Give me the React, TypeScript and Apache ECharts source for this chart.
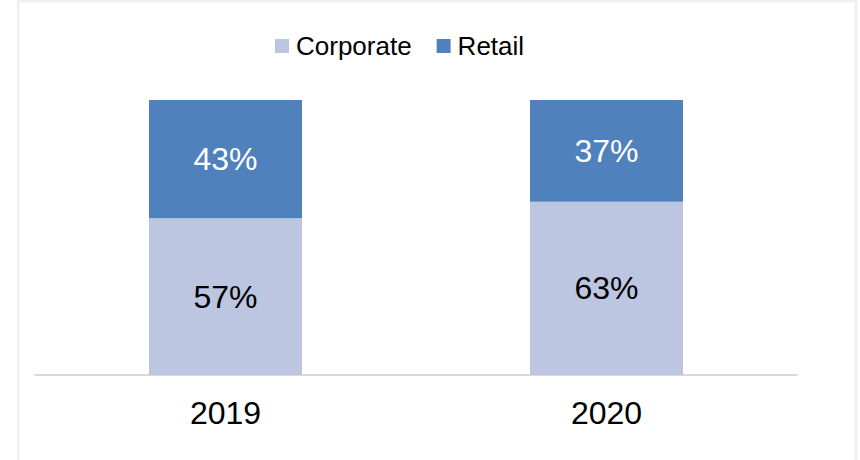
import React, { useEffect, useRef } from "react";
import * as echarts from "echarts";

const categories = ["2019", "2020"];
const corporate = [57, 63];
const retail = [43, 37];
const seriesNames = ["Corporate", "Retail"];

export default function App() {
  const ref = useRef<HTMLDivElement>(null);
  useEffect(() => {
    if (!ref.current) return;
    const chart = echarts.init(ref.current, null, { renderer: "svg" });
    const font = "'Liberation Sans', Arial, sans-serif";
    chart.setOption({
      animation: false,
      backgroundColor: "#ffffff",
      textStyle: { fontFamily: font },
      legend: {
        left: 270,
        top: 28,
        itemWidth: 14,
        itemHeight: 14,
        itemGap: 25,
        icon: "rect",
        textStyle: { fontSize: 26, color: "#000", fontFamily: font, padding: [0, 0, 0, 2] },
        data: seriesNames,
      },
      grid: { left: 35, right: 63, top: 100, bottom: 85 },
      xAxis: {
        type: "category",
        data: categories,
        axisLine: { lineStyle: { color: "#d9d9d9", width: 2 } },
        axisTick: { show: false },
        axisLabel: { fontSize: 32, color: "#000", margin: 22, fontFamily: font },
      },
      yAxis: { type: "value", min: 0, max: 100, show: false, splitLine: { show: false } },
      series: [
        {
          name: seriesNames[0],
          type: "bar",
          stack: "s",
          barWidth: 153,
          data: corporate,
          itemStyle: { color: "#bcc6e0" },
          label: { show: true, position: "inside", formatter: "{c}%", fontSize: 32, color: "#000", fontFamily: font },
        },
        {
          name: seriesNames[1],
          type: "bar",
          stack: "s",
          barWidth: 153,
          data: retail,
          itemStyle: { color: "#4f81bd" },
          label: { show: true, position: "inside", formatter: "{c}%", fontSize: 32, color: "#fff", fontFamily: font },
        },
      ],
      graphic: [
        {
          type: "rect",
          shape: { x: 18.3, y: 1, width: 837.7, height: 480 },
          style: { fill: "none", stroke: "#f0f0f0", lineWidth: 3 },
          silent: true,
        },
      ],
    });
    return () => chart.dispose();
  }, []);
  return (
    <div
      ref={ref}
      style={{ position: "fixed", left: 0, top: 0, width: 860, height: 460 }}
    />
  );
}
